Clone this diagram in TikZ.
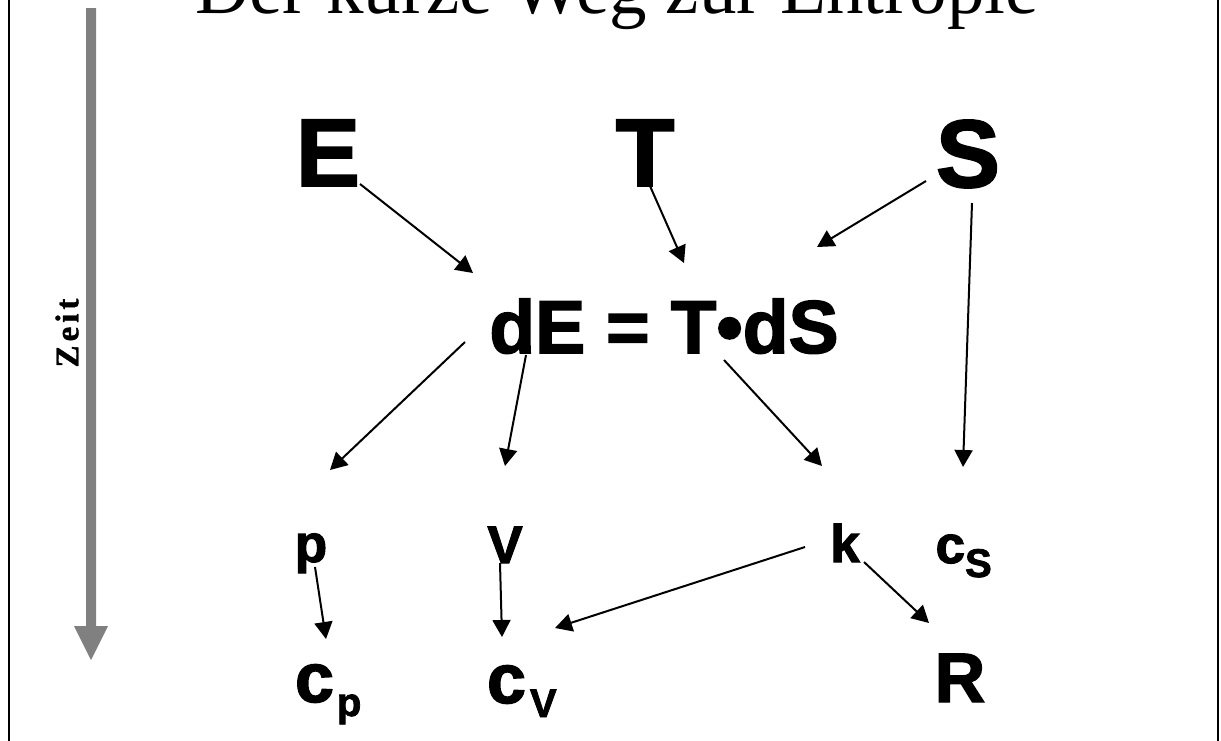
\documentclass[tikz,border=0pt]{standalone}
\usepackage{fontspec}
\setmainfont{Liberation Serif}
\newfontfamily\arialf{Liberation Sans}[BoldFeatures={FakeBold=2}]
\newfontfamily\zeitf{Liberation Serif}[BoldFeatures={FakeBold=1}]
\usetikzlibrary{arrows.meta}
\definecolor{zeitgray}{RGB}{128,128,128}
\tikzset{
  lbl/.style={inner sep=0pt, outer sep=0pt, anchor=base, font=\arialf\bfseries},
  big/.style={lbl, font=\arialf\bfseries\fontsize{96}{96}\selectfont},
  mid/.style={lbl, font=\arialf\bfseries\fontsize{75}{75}\selectfont},
  small/.style={lbl, font=\arialf\bfseries\fontsize{53}{53}\selectfont},
  large/.style={lbl, font=\arialf\bfseries\fontsize{70}{70}\selectfont},
  arr/.style={line width=2pt, -{Triangle[length=17pt,width=18pt]}},
}
\newcommand{\subsc}[1]{{\fontsize{40}{40}\selectfont\raisebox{-14pt}{#1}}}
\begin{document}
\begin{tikzpicture}[x=1pt,y=-1pt]
\useasboundingbox (0,0) rectangle (1221,740);
\clip (0,0) rectangle (1221,740);
\fill[white] (0,0) rectangle (1221,740);
% frame
\draw[line width=2pt] (9,-5) -- (9,745);
\draw[line width=2pt] (1218,-5) -- (1218,745);
% title (cut off at the top edge, as in the reference)
\node[inner sep=0pt, anchor=base, font=\fontsize{75}{75}\selectfont] (title) at (617,13) {Der kurze Weg zur Entropie};
% time arrow
\fill[zeitgray] (86,8) -- (96,8) -- (96,626) -- (108,626) -- (91,660) -- (74,626) -- (86,626) -- cycle;
\node[inner sep=0pt, rotate=90, font=\zeitf\bfseries\fontsize{33}{33}\selectfont] (zeit) at (67,333) {Z\kern4pt e\kern4pt i\kern4pt t};
% nodes
\node[big] (E) at (328,186) {E};
\node[big] (T) at (645,186) {T};
\node[big] (S) at (968,187) {S};
\node[mid] (eq) at (664,353) {dE = T•dS};
\node[small] (p) at (311,562) {p};
\node[small] (V) at (505,563) {V};
\node[small] (k) at (845,562) {k};
\node[small, anchor=base west] (cS) at (935.6,563) {c\kern0pt\subsc{S}};
\node[large, anchor=base west] (cp) at (295,702) {c\kern3pt\subsc{p}};
\node[large, anchor=base west] (cV) at (487,703) {c\kern4pt\subsc{V}};
\node[large] (R) at (960,702) {R};
% connectors
\draw[arr] ([shift={(32,-2)}]E.base) -- ([shift={(-191,-80)}]eq.base);
\draw[arr] ([shift={(5,0)}]T.base) -- ([shift={(20,-90)}]eq.base);
\draw[arr] ([shift={(-42,-6)}]S.base) -- ([shift={(153,-106)}]eq.base);
\draw[arr] ([shift={(4,16)}]S.base) -- ([shift={(27.4,-96)}]cS.base west);
\draw[arr] ([shift={(-199,-11)}]eq.base) -- ([shift={(19,-92)}]p.base);
\draw[arr] ([shift={(-138,2)}]eq.base) -- ([shift={(0,-97)}]V.base);
\draw[arr] ([shift={(60,7)}]eq.base) -- ([shift={(-23,-96)}]k.base);
\draw[arr] ([shift={(4,5)}]p.base) -- ([shift={(31,-63)}]cp.base west);
\draw[arr] ([shift={(-5,0)}]V.base) -- ([shift={(15,-66)}]cV.base west);
\draw[arr] ([shift={(-40,-15)}]k.base) -- ([shift={(68,-75)}]cV.base west);
\draw[arr] ([shift={(19,0)}]k.base) -- ([shift={(-31,-79)}]R.base);
\end{tikzpicture}
\end{document}
